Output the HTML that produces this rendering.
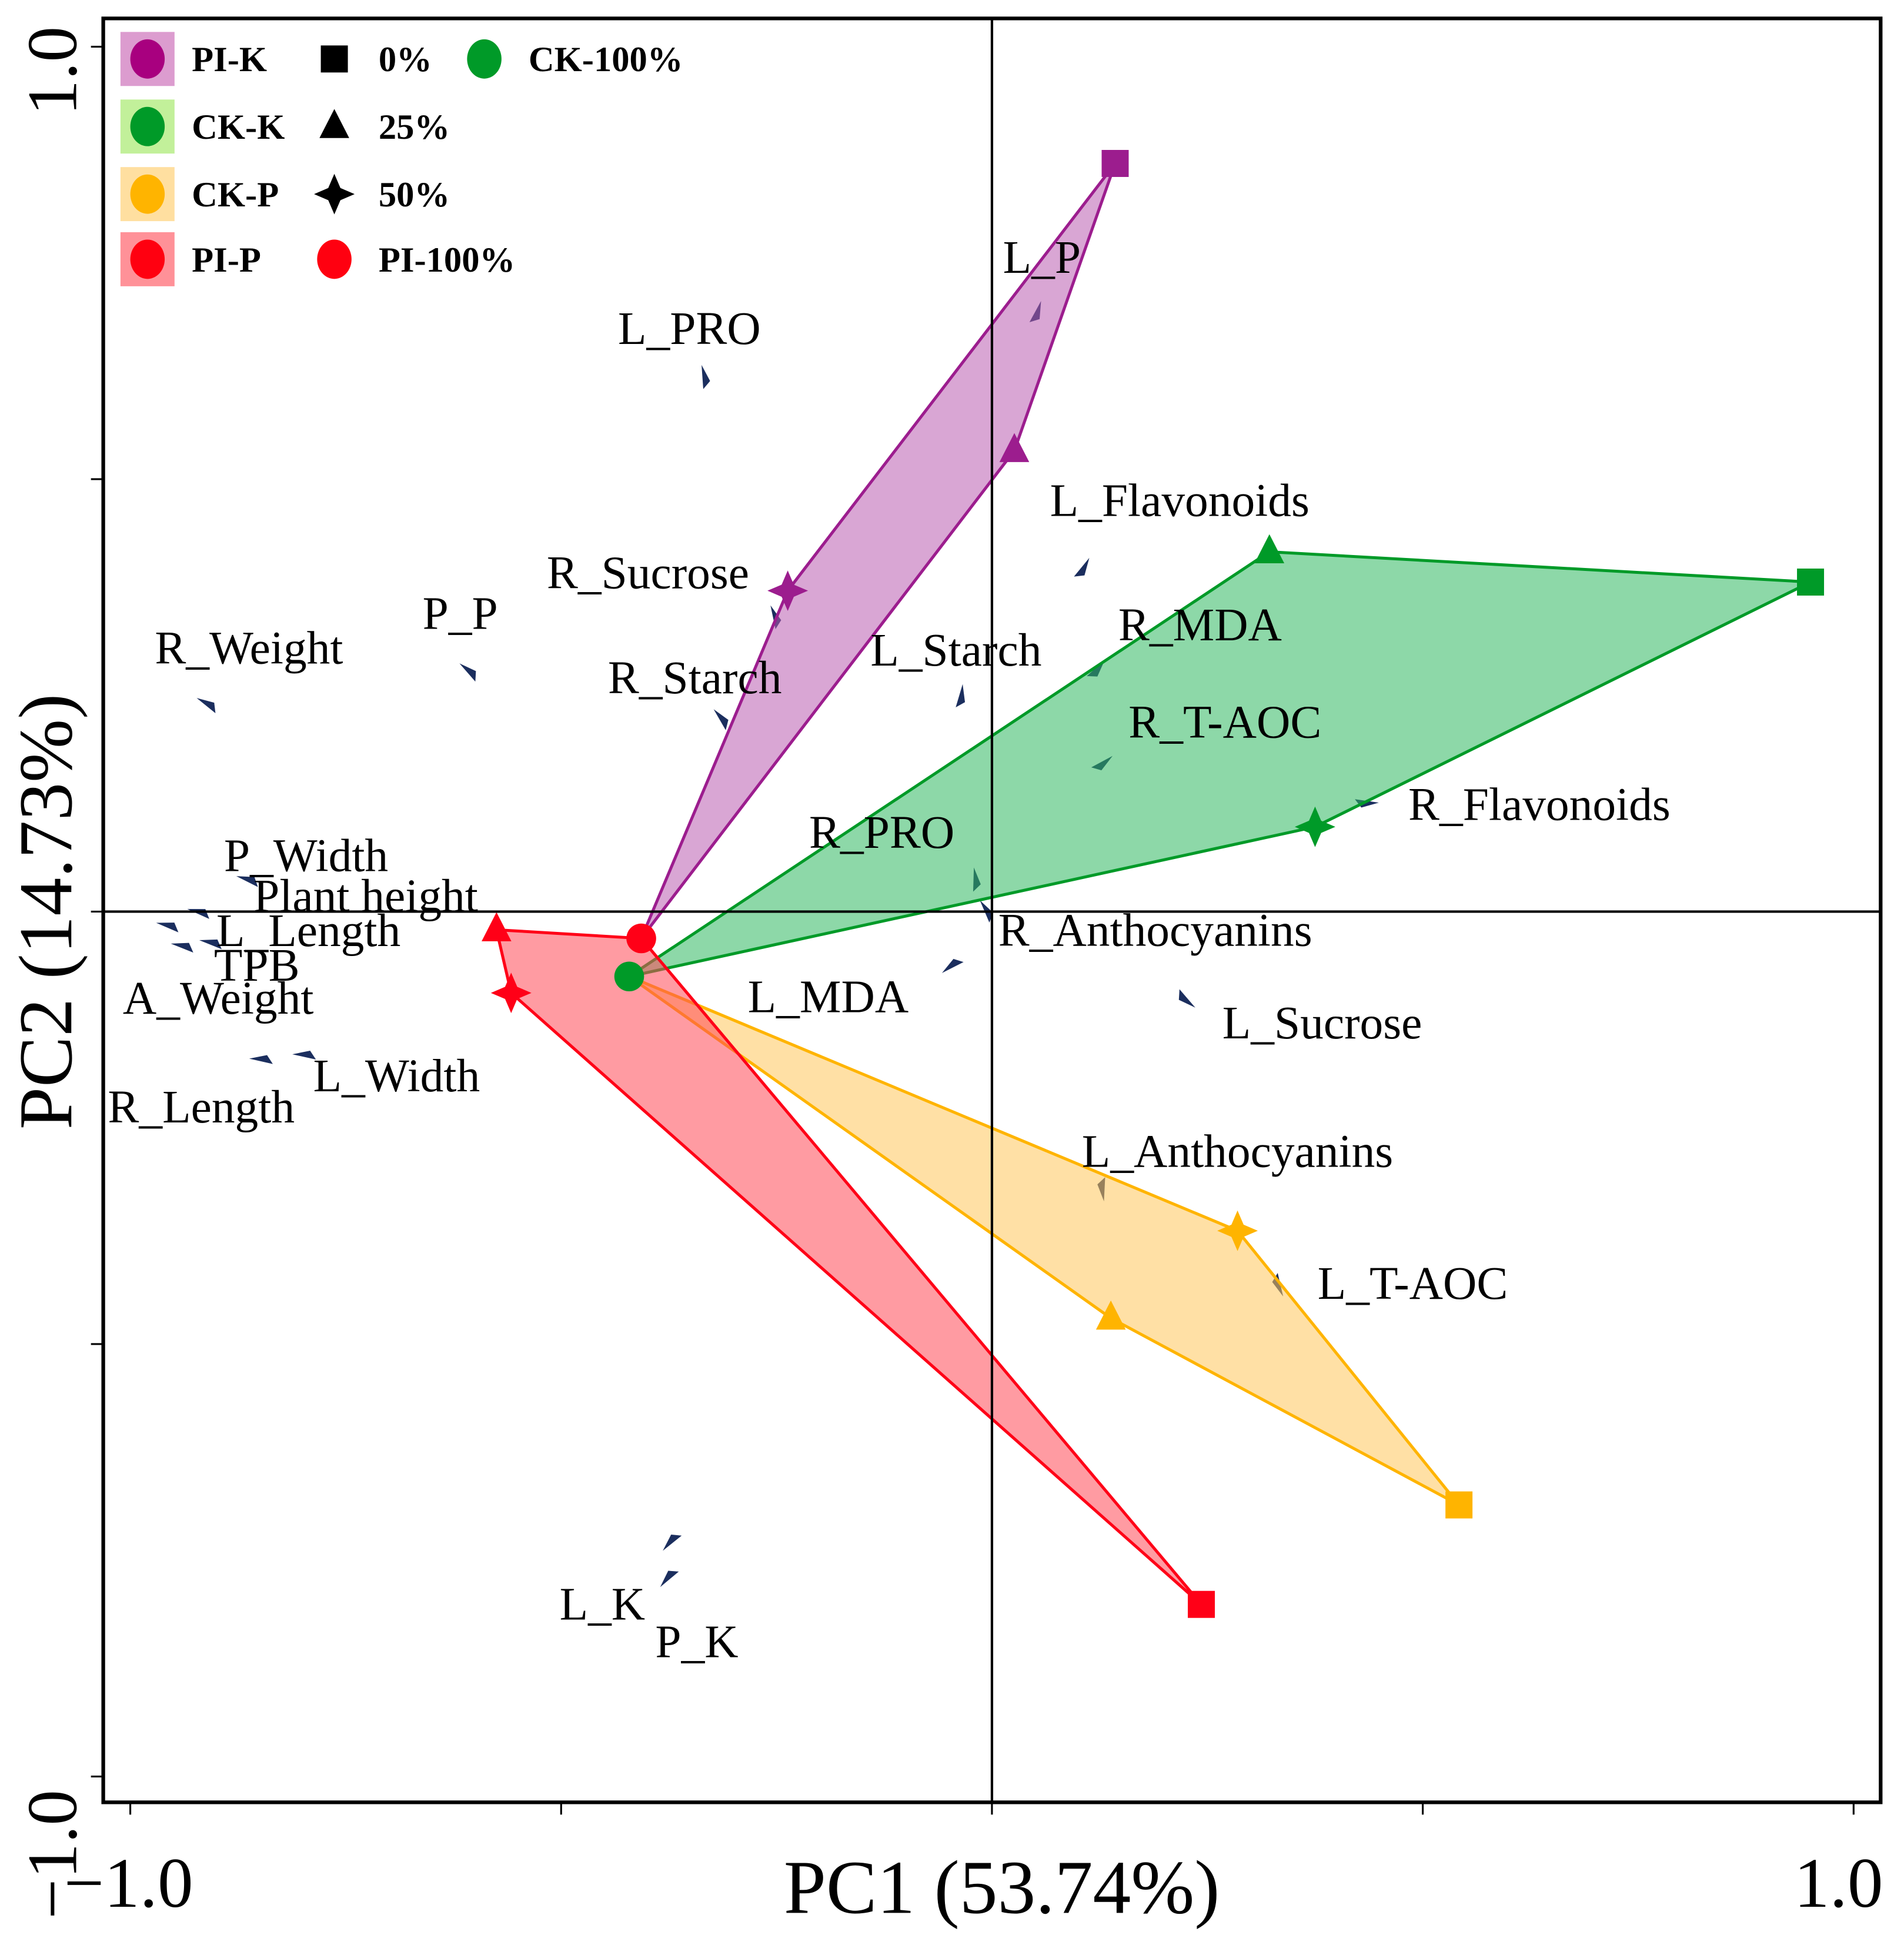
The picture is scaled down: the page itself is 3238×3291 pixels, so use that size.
<!DOCTYPE html>
<html><head><meta charset="utf-8"><style>html,body{margin:0;padding:0;background:#fff}svg{display:block}</style></head>
<body>
<svg id="chart" xmlns="http://www.w3.org/2000/svg" width="3238" height="3291" viewBox="0 0 1549 1575" preserveAspectRatio="none" font-family="'Liberation Serif', serif">
<g id="arrows"></g>
<g id="hulls"></g>
<g id="labels"></g>
<g id="points"></g>
<g id="axes"></g>
<g id="legend"></g>
</svg>
<script>
const NS='http://www.w3.org/2000/svg';
// ---- data ----
const groups=['PI-K','CK-K','CK-P','PI-P'];
const groupFill=['#ba5db1','#30b861','#ffc75b','#ff4856'];
const groupStroke=['#9c1d8e','#009a28','#ffb400','#ff0017'];
const shapes=['square','triangle','star'];
const pcx=[[0.143,0.026,-0.237],[0.950,0.322,0.375],[0.542,0.138,0.285],[0.243,-0.575,-0.558]];
const pcy=[[0.865,0.533,0.371],[0.381,0.416,0.098],[-0.686,-0.470,-0.369],[-0.801,-0.021,-0.094]];
const ctrlNames=['CK-100%','PI-100%'];
const ctrlX=[-0.421,-0.407];
const ctrlY=[-0.075,-0.031];
const ctrlColor=['#009a28','#ff0017'];
const groupCtrl=[1,0,0,1];
const varNames=['L_P','L_PRO','L_Flavonoids','R_Sucrose','R_MDA','R_Weight','P_P','L_Starch','R_Starch','R_T-AOC','R_Flavonoids','R_PRO','R_Anthocyanins','P_Width','Plant height','L_Length','TPB','A_Weight','L_MDA','L_Sucrose','L_Width','R_Length','L_Anthocyanins','L_T-AOC','L_K','P_K'];
const varX=[0.057,-0.337,0.113,-0.257,0.131,-0.923,-0.618,-0.034,-0.323,0.140,0.449,-0.021,-0.014,-0.877,-0.934,-0.970,-0.920,-0.953,-0.058,0.236,-0.812,-0.862,0.130,0.338,-0.382,-0.385];
const varY=[0.706,0.632,0.409,0.354,0.291,0.247,0.287,0.263,0.234,0.180,0.126,0.051,0.013,0.041,0.003,-0.013,-0.033,-0.037,-0.071,-0.111,-0.165,-0.170,-0.335,-0.445,-0.739,-0.781];
const labDX=[-31,-68,-32,-182,11,-34,-30,-75,-86,13,24,-134,15,-10,54,49,12,-39,-158,22,17,-115,-18,28,-84,-4];
const labDY=[-23,-17,-34,-14,-16,-28,-28,-15,-13,-15,14,-16,37,-4,2,19,33,57,32,25,30,52,-28,2,56,57];
const xTicks=[-1,-0.5,0,0.5,1];
const yTicks=[1,0.5,0,-0.5,-1];
// ---- scales ----
const X=v=>807+v*701;
const Y=v=>742-v*704;
function el(tag,attrs,parent){const e=document.createElementNS(NS,tag);for(const k in attrs)e.setAttribute(k,attrs[k]);parent.appendChild(e);return e;}
function marker(shape,x,y,s,color,parent){
  let e;
  if(shape==='square')e=el('rect',{x:x-s,y:y-s,width:2*s,height:2*s,fill:color},parent);
  else if(shape==='triangle')e=el('polygon',{points:`${x},${y-s*1.3} ${x-s*1.1},${y+s*0.85} ${x+s*1.1},${y+s*0.85}`,fill:color},parent);
  else if(shape==='star'){const r=s*1.5,q=s*0.45;e=el('polygon',{points:`${x},${y-r} ${x+q},${y-q} ${x+r},${y} ${x+q},${y+q} ${x},${y+r} ${x-q},${y+q} ${x-r},${y} ${x-q},${y-q}`,fill:color},parent);}
  else e=el('circle',{cx:x,cy:y,r:s*1.1,fill:color},parent);
  return e;
}
const gA=document.getElementById('arrows'),gH=document.getElementById('hulls'),gL=document.getElementById('labels'),gP=document.getElementById('points'),gX=document.getElementById('axes'),gG=document.getElementById('legend');
// arrows
varNames.forEach((n,i)=>{
  const x=X(varX[i]),y=Y(varY[i]);const ang=Math.atan2(y-742,x-807);
  const L=18,W=8;const bx=x-L*Math.cos(ang),by=y-L*Math.sin(ang);
  const p=el('polygon',{points:`${x},${y} ${bx+W*Math.sin(ang)},${by-W*Math.cos(ang)} ${bx+W*0.4*Math.cos(ang)},${by+W*0.4*Math.sin(ang)}`,fill:'#1b2e5e'},gA);
  
  
});
// hulls
const hullOrder=[[0,1,'c',2],[ 'c',1,0,2],['c',2,0,1],[1,'c',0,2]];
groups.forEach((g,gi)=>{
  const pts=hullOrder[gi].map(k=>k==='c'?[X(ctrlX[groupCtrl[gi]]),Y(ctrlY[groupCtrl[gi]])]:[X(pcx[gi][k]),Y(pcy[gi][k])]);
  const p=el('polygon',{points:pts.map(a=>a.join(',')).join(' '),fill:groupFill[gi],'fill-opacity':0.55,stroke:groupStroke[gi],'stroke-width':2.4},gH);
  
  
});
// labels
varNames.forEach((n,i)=>{
  const t=el('text',{x:X(varX[i])+labDX[i],y:Y(varY[i])+labDY[i],'font-size':38,fill:'#000'},gL);
  t.textContent=n;
  
  
});
// points
groups.forEach((g,gi)=>{shapes.forEach((s,si)=>{
  const m=marker(s,X(pcx[gi][si]),Y(pcy[gi][si]),11,groupStroke[gi],gP);
  
  
});});
ctrlNames.forEach((n,i)=>{
  const m=marker('circle',X(ctrlX[i]),Y(ctrlY[i]),11,ctrlColor[i],gP);
  
  
});
// axes
el('line',{x1:807,y1:15,x2:807,y2:1467,stroke:'#000','stroke-width':2},gX);
el('line',{x1:84,y1:742,x2:1530,y2:742,stroke:'#000','stroke-width':2},gX);
const fr=el('rect',{x:84,y:15,width:1446,height:1452,fill:'none',stroke:'#000','stroke-width':3},gX);

xTicks.forEach(v=>{el('line',{x1:X(v),y1:1467,x2:X(v),y2:1477,stroke:'#000','stroke-width':1.5},gX);});
yTicks.forEach(v=>{el('line',{x1:74,y1:Y(v),x2:84,y2:Y(v),stroke:'#000','stroke-width':1.5},gX);});
[[-1,'start',52,'−1.0'],[1,'end',1532,'1.0']].forEach(a=>{const t=el('text',{x:a[2],y:1552,'font-size':58,'text-anchor':a[1]},gX);t.textContent=a[3];});
[[1,'1.0',94],[-1,'−1.0',1562]].forEach(a=>{const t=el('text',{transform:`translate(62,${a[2]}) rotate(-90)`,'font-size':58,'text-anchor':'start'},gX);t.textContent=a[1];});
const xt=el('text',{x:815,y:1557,'font-size':62,'text-anchor':'middle'},gX);xt.textContent='PC1 (53.74%)';
const yt=el('text',{transform:'translate(58,742) rotate(-90)','font-size':62,'text-anchor':'middle'},gX);yt.textContent='PC2 (14.73%)';
// legend
const legY=[48,103,158,211];
const legBg=['#dc9ccf','#c2f09a','#ffdfa0','#ff9198'];
const legDot=['#a8007f','#009a28','#ffb400','#ff0010'];
groups.forEach((g,i)=>{
  const r=el('rect',{x:98,y:legY[i]-22,width:44,height:44,fill:legBg[i]},gG);
  
  el('ellipse',{cx:120,cy:legY[i],rx:14,ry:16,fill:legDot[i]},gG);
  const t=el('text',{x:156,y:legY[i]+10,'font-size':29,'font-weight':'bold'},gG);t.textContent=g;
  
});
const shpLab=['0%','25%','50%'];
shapes.forEach((s,i)=>{marker(s,272,legY[i],11,'#000',gG);
  const t=el('text',{x:308,y:legY[i]+10,'font-size':29,'font-weight':'bold'},gG);t.textContent=shpLab[i];
  });
el('ellipse',{cx:272,cy:legY[3],rx:14,ry:16,fill:'#ff0010'},gG);
const t1=el('text',{x:308,y:legY[3]+10,'font-size':29,'font-weight':'bold'},gG);t1.textContent='PI-100%';

el('ellipse',{cx:394,cy:legY[0],rx:14,ry:16,fill:'#009a28'},gG);
const t2=el('text',{x:430,y:legY[0]+10,'font-size':29,'font-weight':'bold'},gG);t2.textContent='CK-100%';

</script>
</body></html>
